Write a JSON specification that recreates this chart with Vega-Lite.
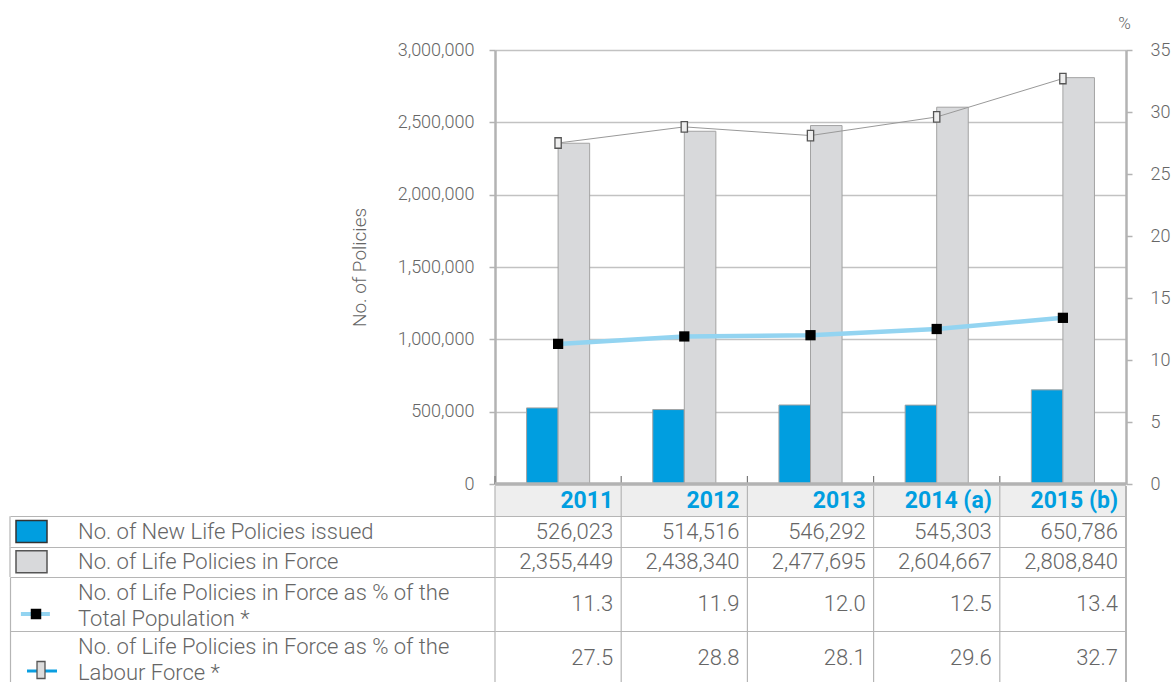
{
  "$schema": "https://vega.github.io/schema/vega-lite/v6.json",
  "padding": {"left": 7, "top": 14, "right": 5, "bottom": 0},
  "spacing": 2,
  "bounds": "flush",
  "datasets": {
    "main": [
      {"year": "2011", "newp": 526023, "force": 2355449, "pop": 11.3, "lab": 27.5},
      {"year": "2012", "newp": 514516, "force": 2438340, "pop": 11.9, "lab": 28.8},
      {"year": "2013", "newp": 546292, "force": 2477695, "pop": 12.0, "lab": 28.1},
      {"year": "2014 (a)", "newp": 545303, "force": 2604667, "pop": 12.5, "lab": 29.6},
      {"year": "2015 (b)", "newp": 650786, "force": 2808840, "pop": 13.4, "lab": 32.7}
    ],
    "hdr": [
      {"year": "2011", "row": "hdr"},
      {"year": "2012", "row": "hdr"},
      {"year": "2013", "row": "hdr"},
      {"year": "2014 (a)", "row": "hdr"},
      {"year": "2015 (b)", "row": "hdr"}
    ],
    "legend": [
      {"key": "newp", "label": "No. of New Life Policies issued"},
      {"key": "force", "label": "No. of Life Policies in Force"},
      {"key": "pop", "label": "No. of Life Policies in Force as % of the\nTotal Population *"},
      {"key": "lab", "label": "No. of Life Policies in Force as % of the\nLabour Force *"}
    ]
  },
  "vconcat": [
    {
      "width": 631,
      "height": 434,
      "data": {"name": "main"},
      "layer": [
        {
          "transform": [{"fold": ["newp", "force"], "as": ["series", "count"]}],
          "mark": {"type": "bar", "stroke": "#a3a3a3", "strokeWidth": 1},
          "encoding": {
            "x": {"field": "year", "type": "nominal",
              "scale": {"domain": ["2011", "2012", "2013", "2014 (a)", "2015 (b)"], "paddingInner": 0, "paddingOuter": 0},
              "axis": null},
            "xOffset": {"field": "series", "type": "nominal", "scale": {"domain": ["newp", "force"], "paddingInner": 0, "paddingOuter": 1}},
            "y": {"field": "count", "type": "quantitative",
              "scale": {"domain": [0, 3000000], "nice": false},
              "axis": {"values": [0, 500000, 1000000, 1500000, 2000000, 2500000, 3000000], "format": ",.0f", "title": "No. of Policies",
                "labelFontSize": 18, "labelColor": "#666666", "labelFontWeight": 300, "labelPadding": 15,
                "tickSize": 6, "tickColor": "#b3b3b3", "tickWidth": 1.5, "domainColor": "#b3b3b3", "domainWidth": 2.5,
                "grid": true, "gridColor": "#c2c2c2", "gridWidth": 1.3,
                "titleFontSize": 19, "titleFontWeight": 300, "titleColor": "#666666", "titlePadding": 28}},
            "color": {"field": "series", "type": "nominal", "scale": {"domain": ["newp", "force"], "range": ["#009ee0", "#d8d9db"]}, "legend": null}
          }
        },
        {
          "mark": {"type": "line", "color": "#999999", "strokeWidth": 1},
          "encoding": {
            "x": {"field": "year", "type": "nominal", "axis": null},
            "y": {"field": "lab", "type": "quantitative", "scale": {"domain": [0, 35], "nice": false},
              "axis": {"orient": "right", "values": [0, 5, 10, 15, 20, 25, 30, 35], "grid": false,
                "labelFontSize": 18, "labelColor": "#666666", "labelFontWeight": 300, "labelPadding": 18,
                "tickSize": 6, "tickColor": "#b3b3b3", "tickWidth": 1.5, "domainColor": "#b3b3b3", "domainWidth": 2.5,
                "title": "%", "titleAngle": 0, "titleX": -2, "titleY": -27, "titleAlign": "center", "titleBaseline": "middle",
                "titleFontSize": 17, "titleFontWeight": 300, "titleColor": "#666666"}}
          }
        },
        {
          "mark": {"type": "point", "shape": "M-0.6,-1L0.6,-1L0.6,1L-0.6,1Z", "size": 110, "filled": true, "fill": "#eeeeee", "stroke": "#555555", "strokeWidth": 1.3, "opacity": 1},
          "encoding": {
            "x": {"field": "year", "type": "nominal", "axis": null},
            "y": {"field": "lab", "type": "quantitative", "scale": {"domain": [0, 35], "nice": false}, "axis": null}
          }
        },
        {
          "mark": {"type": "line", "color": "#93d4f1", "strokeWidth": 4.5},
          "encoding": {
            "x": {"field": "year", "type": "nominal", "axis": null},
            "y": {"field": "pop", "type": "quantitative", "scale": {"domain": [0, 35], "nice": false}, "axis": null}
          }
        },
        {
          "mark": {"type": "point", "shape": "square", "size": 105, "filled": true, "color": "#000000", "opacity": 1},
          "encoding": {
            "x": {"field": "year", "type": "nominal", "axis": null},
            "y": {"field": "pop", "type": "quantitative", "scale": {"domain": [0, 35], "nice": false}, "axis": null}
          }
        },
        {
          "mark": {"type": "point", "shape": "M0,-1L0,0", "size": 256, "filled": false, "stroke": "#7a7a7a", "strokeWidth": 1.2, "opacity": 1},
          "encoding": {
            "x": {"field": "year", "type": "nominal", "bandPosition": 0, "axis": null},
            "y": {"datum": 0, "type": "quantitative", "scale": {"domain": [0, 35], "nice": false}, "axis": null}
          }
        },
        {
          "mark": {"type": "rule", "color": "#b3b3b3", "strokeWidth": 2.5},
          "encoding": {
            "y": {"datum": 0, "type": "quantitative", "scale": {"domain": [0, 35], "nice": false}, "axis": null}
          }
        }
      ],
      "resolve": {"scale": {"y": "independent"}}
    },
    {
      "spacing": 0,
      "bounds": "flush",
      "vconcat": [
        {
          "width": 631,
          "height": 91,
          "view": {"stroke": null},
          "resolve": {"axis": {"y": "independent", "x": "independent"}},
          "layer": [
            {
              "data": {"name": "hdr"},
              "mark": {"type": "rect", "color": "#eeeeee"},
              "encoding": {
                "x": {"field": "year", "type": "nominal",
                  "scale": {"domain": ["2011", "2012", "2013", "2014 (a)", "2015 (b)"], "paddingInner": 0, "paddingOuter": 0},
                  "axis": null},
                "y": {"field": "row", "type": "nominal",
                  "scale": {"domain": ["hdr", "newp", "force"], "paddingInner": 0, "paddingOuter": 0},
                  "axis": {"orient": "left", "values": ["newp", "force"], "labels": false, "title": null, "domain": false,
                    "ticks": true, "tickSize": 485, "tickColor": "#b5b5b5", "tickWidth": 1.2, "tickBand": "extent",
                    "grid": true, "gridColor": "#b5b5b5", "gridWidth": 1.2}}
              }
            },
            {
              "data": {"name": "main"},
              "transform": [{"fold": ["newp", "force"], "as": ["key", "value"]}],
              "mark": {"type": "text", "align": "right", "dx": -8, "fontSize": 22, "color": "#666666", "fontWeight": 300},
              "encoding": {
                "x": {"field": "year", "type": "nominal", "bandPosition": 1, "axis": null},
                "y": {"field": "key", "type": "nominal", "axis": null},
                "text": {"field": "value", "type": "quantitative", "format": ","}
              }
            },
            {
              "data": {"name": "hdr"},
              "mark": {"type": "text", "align": "right", "dx": -8, "fontSize": 23, "fontWeight": "bold", "color": "#009ee0"},
              "encoding": {
                "x": {"field": "year", "type": "nominal", "bandPosition": 1, "axis": null},
                "y": {"field": "row", "type": "nominal", "axis": null},
                "text": {"field": "year"}
              }
            },
            {
              "data": {"name": "main"},
              "mark": {"type": "rule", "color": "#b5b5b5", "strokeWidth": 1.2},
              "encoding": {
                "x": {"field": "year", "type": "nominal", "bandPosition": 0, "axis": null}
              }
            },
            {
              "data": {"name": "main"},
              "mark": {"type": "rule", "color": "#b5b5b5", "strokeWidth": 1.2},
              "encoding": {
                "x": {"datum": "2015 (b)", "type": "nominal", "bandPosition": 1, "axis": null}
              }
            },
            {
              "data": {"name": "legend"},
              "transform": [{"filter": "datum.key === 'newp' || datum.key === 'force'"}],
              "mark": {"type": "text", "align": "left", "dx": -417, "fontSize": 22, "color": "#666666", "fontWeight": 300},
              "encoding": {
                "x": {"datum": "2011", "type": "nominal", "bandPosition": 0, "axis": null},
                "y": {"field": "key", "type": "nominal", "axis": null},
                "text": {"field": "label"}
              }
            },
            {
              "data": {"name": "legend"},
              "transform": [{"filter": "datum.key === 'newp' || datum.key === 'force'"}],
              "mark": {"type": "point", "shape": "M0,-1L0,1", "size": 920, "filled": false, "stroke": "#b5b5b5", "strokeWidth": 1.2, "opacity": 1, "xOffset": -485},
              "encoding": {
                "x": {"datum": "2011", "type": "nominal", "bandPosition": 0, "axis": null},
                "y": {"field": "key", "type": "nominal", "axis": null}
              }
            },
            {
              "data": {"name": "legend"},
              "transform": [{"filter": "datum.key === 'newp'"}],
              "mark": {"type": "point", "shape": "M-1,-0.71L1,-0.71L1,0.71L-1,0.71Z", "size": 961, "filled": true, "fill": "#009ee0", "stroke": "#333333", "strokeWidth": 1.5, "opacity": 1, "xOffset": -463.5},
              "encoding": {
                "x": {"datum": "2011", "type": "nominal", "bandPosition": 0, "axis": null},
                "y": {"field": "key", "type": "nominal", "axis": null}
              }
            },
            {
              "data": {"name": "legend"},
              "transform": [{"filter": "datum.key === 'force'"}],
              "mark": {"type": "point", "shape": "M-1,-0.71L1,-0.71L1,0.71L-1,0.71Z", "size": 961, "filled": true, "fill": "#d8d9db", "stroke": "#555555", "strokeWidth": 1.5, "opacity": 1, "xOffset": -463.5},
              "encoding": {
                "x": {"datum": "2011", "type": "nominal", "bandPosition": 0, "axis": null},
                "y": {"field": "key", "type": "nominal", "axis": null}
              }
            }
          ]
        },
        {
          "width": 631,
          "height": 108,
          "view": {"stroke": null},
          "layer": [
            {
              "data": {"name": "main"},
              "transform": [{"fold": ["pop", "lab"], "as": ["key", "value"]}],
              "mark": {"type": "text", "align": "right", "dx": -8, "fontSize": 22, "color": "#666666", "fontWeight": 300},
              "encoding": {
                "x": {"field": "year", "type": "nominal", "bandPosition": 1,
                  "scale": {"domain": ["2011", "2012", "2013", "2014 (a)", "2015 (b)"], "paddingInner": 0, "paddingOuter": 0},
                  "axis": null},
                "y": {"field": "key", "type": "nominal", "scale": {"domain": ["pop", "lab"], "paddingInner": 0, "paddingOuter": 0},
                  "axis": {"orient": "left", "values": ["lab"], "labels": false, "title": null, "domain": false,
                    "ticks": true, "tickSize": 485, "tickColor": "#b5b5b5", "tickWidth": 1.2, "tickBand": "extent",
                    "grid": true, "gridColor": "#b5b5b5", "gridWidth": 1.2}},
                "text": {"field": "value", "type": "quantitative", "format": ".1f"}
              }
            },
            {
              "data": {"name": "main"},
              "mark": {"type": "rule", "color": "#b5b5b5", "strokeWidth": 1.2},
              "encoding": {
                "x": {"field": "year", "type": "nominal", "bandPosition": 0, "axis": null}
              }
            },
            {
              "data": {"name": "main"},
              "mark": {"type": "rule", "color": "#b5b5b5", "strokeWidth": 1.2},
              "encoding": {
                "x": {"datum": "2015 (b)", "type": "nominal", "bandPosition": 1, "axis": null}
              }
            },
            {
              "data": {"name": "legend"},
              "transform": [{"filter": "datum.key === 'pop' || datum.key === 'lab'"}],
              "mark": {"type": "text", "align": "left", "dx": -417, "dy": -11, "fontSize": 22, "color": "#666666", "fontWeight": 300, "lineBreak": "\n", "lineHeight": 26},
              "encoding": {
                "x": {"datum": "2011", "type": "nominal", "bandPosition": 0, "axis": null},
                "y": {"field": "key", "type": "nominal",
                  "axis": {"orient": "right", "offset": -1116, "labels": false, "ticks": false, "grid": false, "title": null, "domain": true, "domainColor": "#b5b5b5", "domainWidth": 1.2}},
                "text": {"field": "label"}
              }
            },
            {
              "data": {"name": "legend"},
              "transform": [{"filter": "datum.key === 'pop'"}],
              "mark": {"type": "point", "shape": "M-1,0L1,0", "size": 841, "filled": false, "stroke": "#93d4f1", "strokeWidth": 4, "strokeCap": "butt", "opacity": 1, "xOffset": -459.6, "yOffset": 10},
              "encoding": {
                "x": {"datum": "2011", "type": "nominal", "bandPosition": 0, "axis": null},
                "y": {"field": "key", "type": "nominal", "axis": null}
              }
            },
            {
              "data": {"name": "legend"},
              "transform": [{"filter": "datum.key === 'pop'"}],
              "mark": {"type": "point", "shape": "square", "size": 110, "filled": true, "color": "#000000", "opacity": 1, "xOffset": -459, "yOffset": 10},
              "encoding": {
                "x": {"datum": "2011", "type": "nominal", "bandPosition": 0, "axis": null},
                "y": {"field": "key", "type": "nominal", "axis": null}
              }
            },
            {
              "data": {"name": "legend"},
              "transform": [{"filter": "datum.key === 'lab'"}],
              "mark": {"type": "point", "shape": "M-1,0L1,0", "size": 900, "filled": false, "stroke": "#0a9ee0", "strokeWidth": 3, "strokeCap": "butt", "opacity": 1, "xOffset": -453, "yOffset": 13},
              "encoding": {
                "x": {"datum": "2011", "type": "nominal", "bandPosition": 0, "axis": null},
                "y": {"field": "key", "type": "nominal", "axis": null}
              }
            },
            {
              "data": {"name": "legend"},
              "transform": [{"filter": "datum.key === 'lab'"}],
              "mark": {"type": "point", "shape": "M-0.47,-1L0.47,-1L0.47,1L-0.47,1Z", "size": 289, "filled": true, "fill": "#dddddd", "stroke": "#555555", "strokeWidth": 1.3, "opacity": 1, "xOffset": -454, "yOffset": 12},
              "encoding": {
                "x": {"datum": "2011", "type": "nominal", "bandPosition": 0, "axis": null},
                "y": {"field": "key", "type": "nominal", "axis": null}
              }
            }
          ]
        }
      ]
    }
  ],
  "config": {
    "view": {"stroke": null},
    "font": "Roboto",
    "axis": {"labelFont": "Roboto", "titleFont": "Roboto"},
    "text": {"font": "Roboto"}
  }
}
